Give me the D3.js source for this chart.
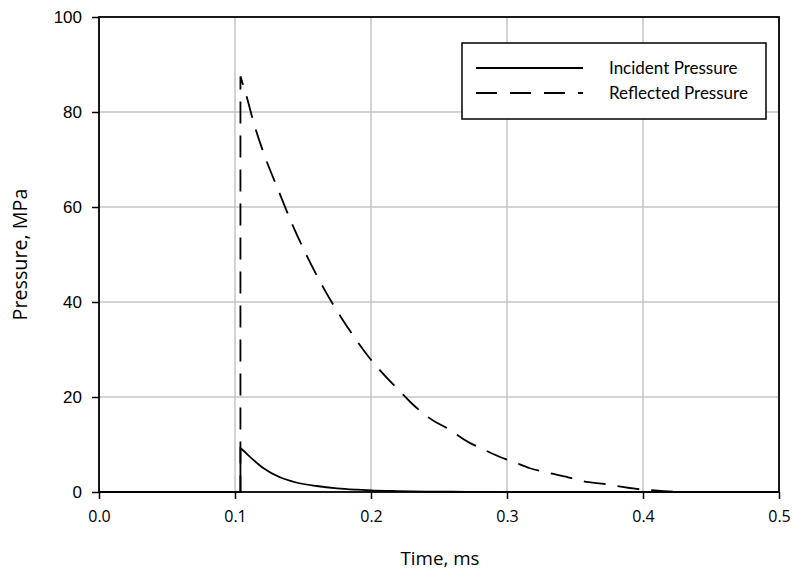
<!DOCTYPE html>
<html><head><meta charset="utf-8">
<script src="https://cdn.jsdelivr.net/npm/d3@7"></script>
<style>body{margin:0;background:#fff}svg{display:block}</style>
</head><body>
<script>
const xTicks = [0.0, 0.1, 0.2, 0.3, 0.4, 0.5];
const yTicks = [0, 20, 40, 60, 80, 100];
const seriesNames = ["Incident Pressure", "Reflected Pressure"];
const xLabel = "Time, ms";
const yLabel = "Pressure, MPa";

// rise segment (baseline up to the shock front)
const incidentRiseT = [0.0, 0.104, 0.104];
const incidentRiseP = [0, 0, 9.2];
const reflectedRiseT = [0.0, 0.104, 0.104];
const reflectedRiseP = [0, 0, 87.5];

// decay segment
const incidentT = [0.104, 0.105, 0.111, 0.121, 0.133, 0.145, 0.160, 0.175, 0.190, 0.200, 0.219, 0.240, 0.260, 0.280, 0.300, 0.500];
const incidentP = [9.2, 9.0, 7.4, 5.0, 3.1, 2.0, 1.26, 0.77, 0.49, 0.35, 0.2, 0.1, 0.05, 0.02, 0, 0];

const reflectedT = [0.104, 0.1086, 0.1135, 0.122, 0.1318, 0.1417, 0.1532, 0.1662, 0.1784, 0.1858, 0.1998, 0.2054, 0.2226, 0.2287, 0.2471, 0.2544, 0.2723, 0.2796, 0.2973, 0.3042, 0.3169, 0.3292, 0.3476, 0.3537, 0.3733, 0.3794, 0.3978, 0.4039, 0.4223, 0.430, 0.500];
const reflectedP = [87.5, 83.2, 78.0, 70.6, 63.6, 56.6, 49.5, 42.4, 36.6, 33.4, 27.9, 26.0, 20.8, 19.0, 14.8, 13.7, 10.4, 9.4, 7.1, 6.4, 5.0, 4.1, 2.9, 2.4, 1.6, 1.3, 0.56, 0.42, 0.07, 0, 0];

const W = 794, H = 571;
const m = {left: 99, top: 17, right: 15, bottom: 79};
const svg = d3.select("body").append("svg").attr("width", W).attr("height", H);

const x = d3.scaleLinear().domain([0, 0.5]).range([m.left, W - m.right]);
const y = d3.scaleLinear().domain([0, 100]).range([H - m.bottom, m.top]);

// grid
svg.append("g").selectAll("line").data(xTicks.slice(1, -1)).join("line")
  .attr("x1", d => x(d)).attr("x2", d => x(d)).attr("y1", y(0)).attr("y2", y(100))
  .attr("stroke", "#c4c4c4").attr("stroke-width", 1.5);
svg.append("g").selectAll("line").data(yTicks.slice(1, -1)).join("line")
  .attr("y1", d => y(d)).attr("y2", d => y(d)).attr("x1", x(0)).attr("x2", x(0.5))
  .attr("stroke", "#c4c4c4").attr("stroke-width", 1.5);

// data
const lin = d3.line().x(d => x(d[0])).y(d => y(d[1]));
const smooth = d3.line().x(d => x(d[0])).y(d => y(d[1])).curve(d3.curveMonotoneX);
function pathFor(rt, rp, dt, dp) {
  const a = lin(rt.map((t, i) => [t, rp[i]]));
  const b = smooth(dt.map((t, i) => [t, dp[i]]));
  return a + "L" + b.slice(1);
}
svg.append("path").attr("d", pathFor(incidentRiseT, incidentRiseP, incidentT, incidentP))
  .attr("fill", "none").attr("stroke", "#000").attr("stroke-width", 1.8);
svg.append("path").attr("d", pathFor(reflectedRiseT, reflectedRiseP, reflectedT, reflectedP))
  .attr("fill", "none").attr("stroke", "#000").attr("stroke-width", 1.8).attr("stroke-dasharray", "22,12");

// frame
svg.append("rect").attr("x", x(0)).attr("y", y(100)).attr("width", x(0.5) - x(0)).attr("height", y(0) - y(100))
  .attr("fill", "none").attr("stroke", "#000").attr("stroke-width", 1.8);

// axes
const xAxis = svg.append("g").attr("transform", `translate(0,${y(0)})`)
  .call(d3.axisBottom(x).tickValues(xTicks).tickFormat(d3.format(".1f")).tickSize(7).tickPadding(12));
xAxis.select(".domain").remove();
xAxis.selectAll("line").attr("stroke", "#000").attr("stroke-width", 1.5);
xAxis.selectAll("text").attr("font-family", "'Open Sans', sans-serif").attr("font-size", 16).attr("fill", "#000");

const yAxis = svg.append("g").attr("transform", `translate(${x(0)},0)`)
  .call(d3.axisLeft(y).tickValues(yTicks).tickSize(7).tickPadding(10));
yAxis.select(".domain").remove();
yAxis.selectAll("line").attr("stroke", "#000").attr("stroke-width", 1.5);
yAxis.selectAll("text").attr("font-family", "'Liberation Sans', Arial, sans-serif").attr("font-size", 17).attr("fill", "#000");

// titles, sized to the reference widths
function fit(sel, target) {
  const w = sel.node().getComputedTextLength();
  if (w > 0) sel.attr("font-size", 17 * target / w);
}
const xt = svg.append("text").attr("x", 440).attr("y", 565).attr("text-anchor", "middle")
  .attr("font-family", "'Open Sans', sans-serif").attr("font-size", 17).text(xLabel);
fit(xt, 79);
const yt = svg.append("text").attr("transform", `translate(27,${(y(0) + y(100)) / 2}) rotate(-90)`).attr("text-anchor", "middle")
  .attr("font-family", "'Open Sans', sans-serif").attr("font-size", 17).text(yLabel);
fit(yt, 132);

// legend
const lg = svg.append("g");
lg.append("rect").attr("x", 462).attr("y", 43).attr("width", 304).attr("height", 76)
  .attr("fill", "#fff").attr("stroke", "#000").attr("stroke-width", 1.5);
const rows = [68, 93];
seriesNames.forEach((name, i) => {
  lg.append("line").attr("x1", 476).attr("x2", 583).attr("y1", rows[i]).attr("y2", rows[i])
    .attr("stroke", "#000").attr("stroke-width", 1.8)
    .attr("stroke-dasharray", i === 1 ? "21,13" : null);
  lg.append("text").attr("x", 609).attr("y", rows[i] + 6).attr("font-family", "Lato, 'Open Sans', sans-serif")
    .attr("font-size", 17).text(name);
});
</script>
</body></html>
